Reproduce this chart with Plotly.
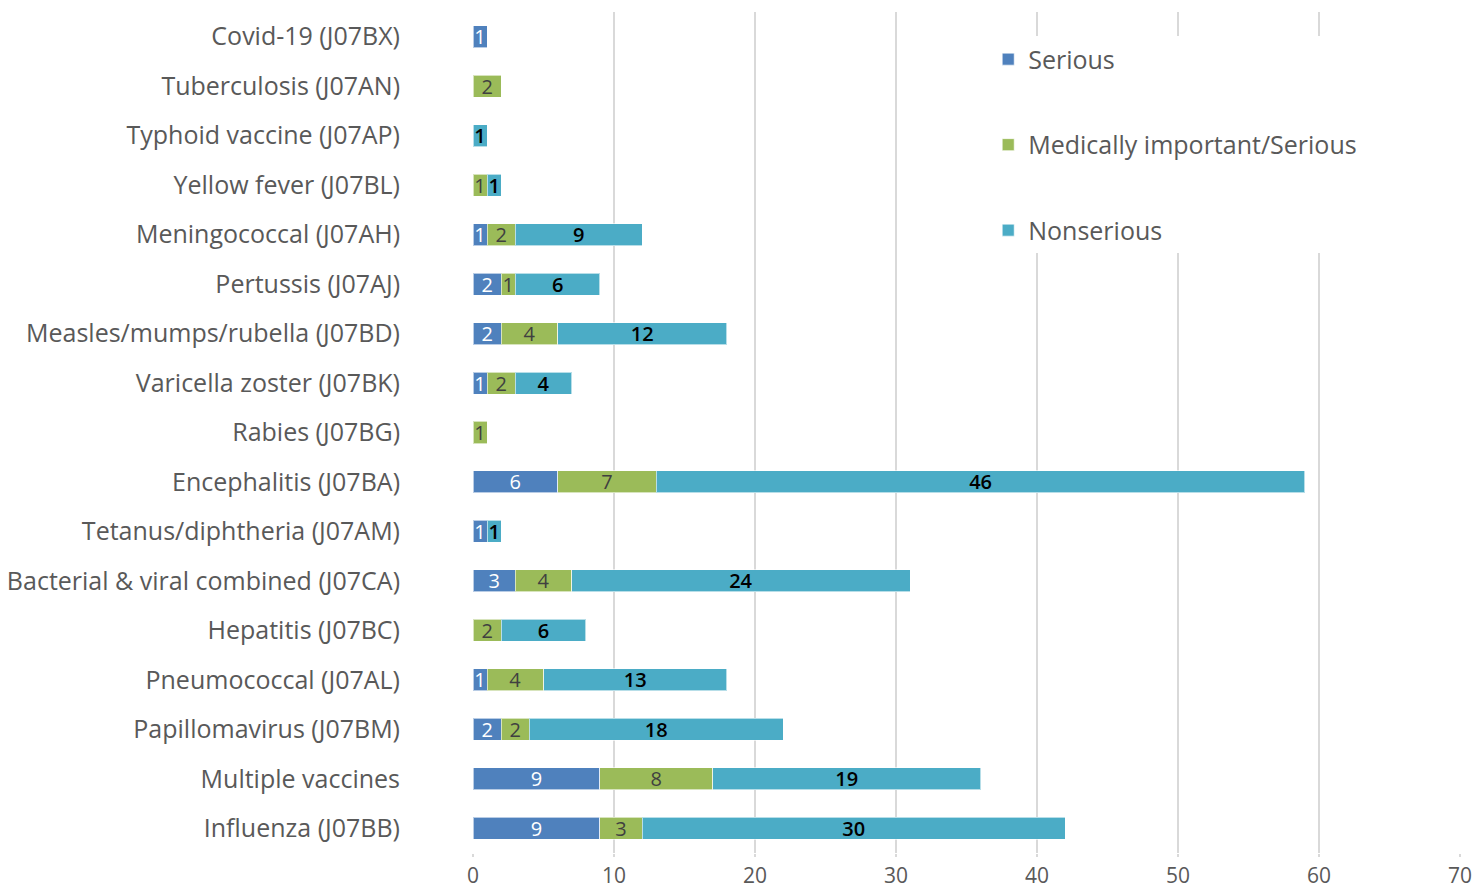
import plotly.graph_objects as go

# Vaccine groups (ATC codes), listed top to bottom
categories = [
    "Covid-19 (J07BX)",
    "Tuberculosis (J07AN)",
    "Typhoid vaccine (J07AP)",
    "Yellow fever (J07BL)",
    "Meningococcal (J07AH)",
    "Pertussis (J07AJ)",
    "Measles/mumps/rubella (J07BD)",
    "Varicella zoster (J07BK)",
    "Rabies (J07BG)",
    "Encephalitis (J07BA)",
    "Tetanus/diphtheria (J07AM)",
    "Bacterial & viral combined (J07CA)",
    "Hepatitis (J07BC)",
    "Pneumococcal (J07AL)",
    "Papillomavirus (J07BM)",
    "Multiple vaccines",
    "Influenza (J07BB)",
]

serious = [1, 0, 0, 0, 1, 2, 2, 1, 0, 6, 1, 3, 0, 1, 2, 9, 9]
medically_important = [0, 2, 0, 1, 2, 1, 4, 2, 1, 7, 0, 4, 2, 4, 2, 8, 3]
nonserious = [0, 0, 1, 1, 9, 6, 12, 4, 0, 46, 1, 24, 6, 13, 18, 19, 30]

x_ticks = [0, 10, 20, 30, 40, 50, 60, 70]

FONT = "Open Sans"
series = [
    ("Serious", serious, "#4F81BD", "#FFFFFF", 400),
    ("Medically important/Serious", medically_important, "#9BBB59", "#404040", 400),
    ("Nonserious", nonserious, "#4BACC6", "#000000", 600),
]

fig = go.Figure()
for i, (name, vals, color, txtcolor, weight) in enumerate(series):
    fig.add_trace(go.Bar(
        y=categories,
        x=vals,
        name=name,
        orientation="h",
        marker=dict(color=color, line=dict(color="rgba(255,255,255,0.6)", width=1)),
        text=[str(v) if v else "" for v in vals],
        textposition="inside",
        insidetextanchor="middle",
        textangle=0,
        textfont=dict(family=FONT, size=20, color=txtcolor, weight=weight),
        legendgroup=f"g{i}",
        hoverinfo="skip",
    ))

fig.update_layout(
    width=1477,
    height=890,
    barmode="stack",
    bargap=0.555,
    plot_bgcolor="#FFFFFF",
    paper_bgcolor="#FFFFFF",
    margin=dict(l=473, r=17, t=12, b=37, autoexpand=False),
    font=dict(family=FONT, color="#595959"),
    uniformtext=dict(minsize=20, mode="show"),
    legend=dict(
        x=0.522, y=0.971, xanchor="left", yanchor="top",
        bgcolor="#FFFFFF",
        font=dict(family=FONT, size=25, color="#595959"),
        tracegroupgap=50,
        traceorder="grouped",
        itemwidth=30,
    ),
    xaxis=dict(
        range=[0, 70],
        tickvals=x_ticks,
        ticktext=[str(t) for t in x_ticks],
        showgrid=True,
        gridcolor="#D9D9D9",
        gridwidth=2,
        zeroline=False,
        showline=False,
        ticks="outside",
        ticklen=3,
        tickcolor="#D9D9D9",
        tickwidth=2,
        ticklabelstandoff=1,
        automargin=False,
        tickfont=dict(family=FONT, size=21, color="#595959"),
    ),
    yaxis=dict(
        autorange="reversed",
        showgrid=False,
        zeroline=False,
        showline=False,
        ticks="",
        ticklabelstandoff=72,
        automargin=False,
        tickfont=dict(family=FONT, size=25, color="#595959"),
    ),
)

fig.write_html("out.html")
